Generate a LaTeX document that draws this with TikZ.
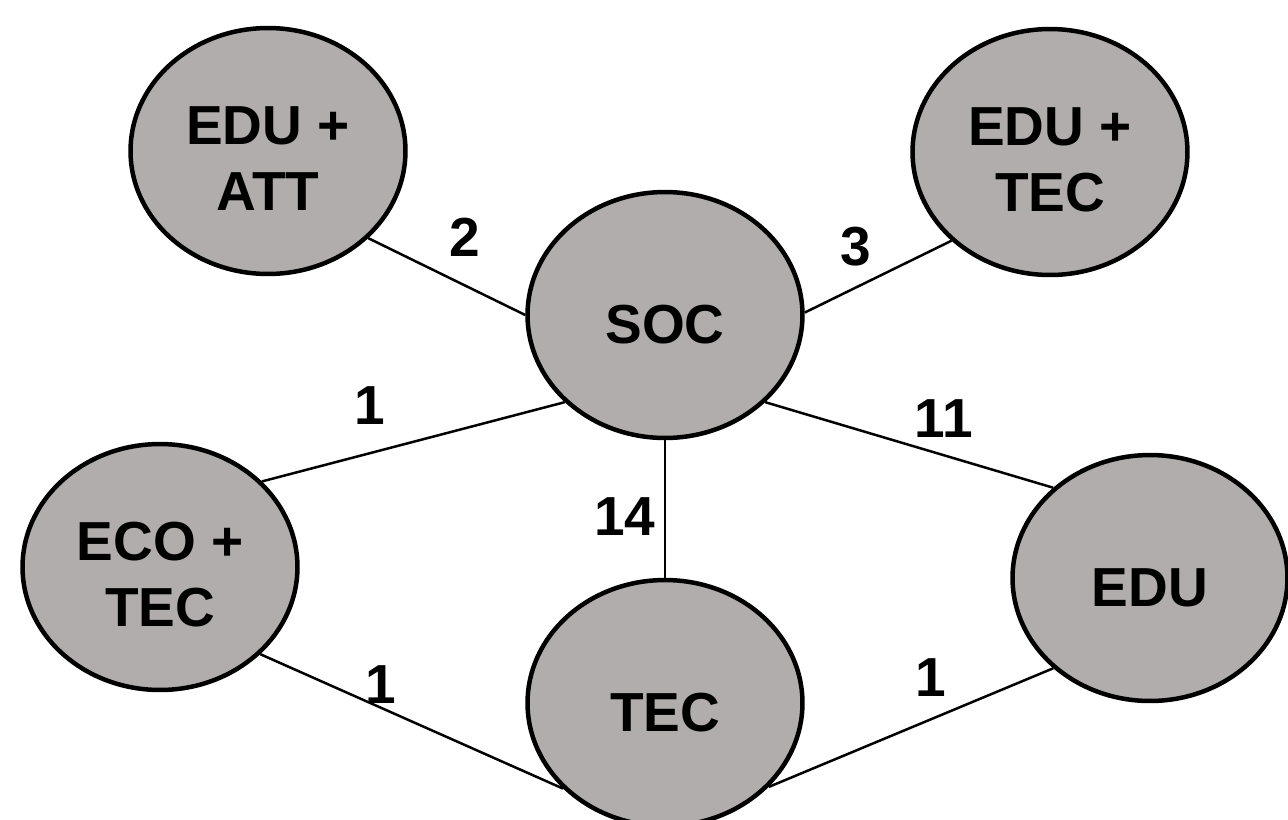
\documentclass[tikz,border=0pt]{standalone}
\usepackage{fontspec}
\setmainfont{Liberation Sans}
\usetikzlibrary{shapes.geometric}
\definecolor{bubblegray}{RGB}{176,173,172}
% strut that lowers the first line of a two-line bubble label
\newcommand{\toplift}{\rule{0pt}{30pt}}
\begin{document}
\begin{tikzpicture}[x=0.02cm,y=-0.02cm,
  bigfont/.style={font=\bfseries\fontsize{31.3pt}{37.6pt}\selectfont},
  bubble/.style={ellipse, draw=black, line width=0.09cm, fill=bubblegray,
    minimum width=5.5cm, minimum height=4.92cm, inner sep=0pt, align=center, bigfont},
  oneline/.style={text height=32pt, text depth=0pt},
  link/.style={draw=black, line width=0.05cm},
  weight/.style={bigfont, inner sep=0pt}]
\useasboundingbox (0,0) rectangle (1288,819);
\clip (0,0) rectangle (1288,819);

% theme bubbles
\node[bubble] (eduatt) at (268,151) {\toplift EDU +\\ATT};
\node[bubble] (edutec) at (1050,152) {\toplift EDU +\\TEC};
\node[bubble, oneline] (soc) at (665,315) {SOC};
\node[bubble] (ecotec) at (160,567) {\toplift ECO +\\TEC};
\node[bubble, oneline] (tec) at (665,703) {TEC};
\node[bubble, oneline] (edu) at (1150,578) {EDU};

% links between themes
\draw[link] (eduatt.-41) -- (soc.180);
\draw[link] (soc.1) -- (edutec.-138);
\draw[link] (soc.-139) -- (ecotec.40.5);
\draw[link] (soc.-41.4) -- (edu.137);
\draw[link] (soc.south) -- (tec.north);
\draw[link] (ecotec.-41) -- (tec.-140.5);
\draw[link] (tec.-39.3) -- (edu.-137);

% link weights
\node[weight] (w1) at (465,237) {2};
\node[weight] (w2) at (856,247) {3};
\node[weight] (w3) at (370,406) {1};
\node[weight] (w4) at (944,419) {11};
\node[weight] (w5) at (625,517) {14};
\node[weight] (w6) at (381,685) {1};
\node[weight] (w7) at (931,678) {1};
\end{tikzpicture}
\end{document}
